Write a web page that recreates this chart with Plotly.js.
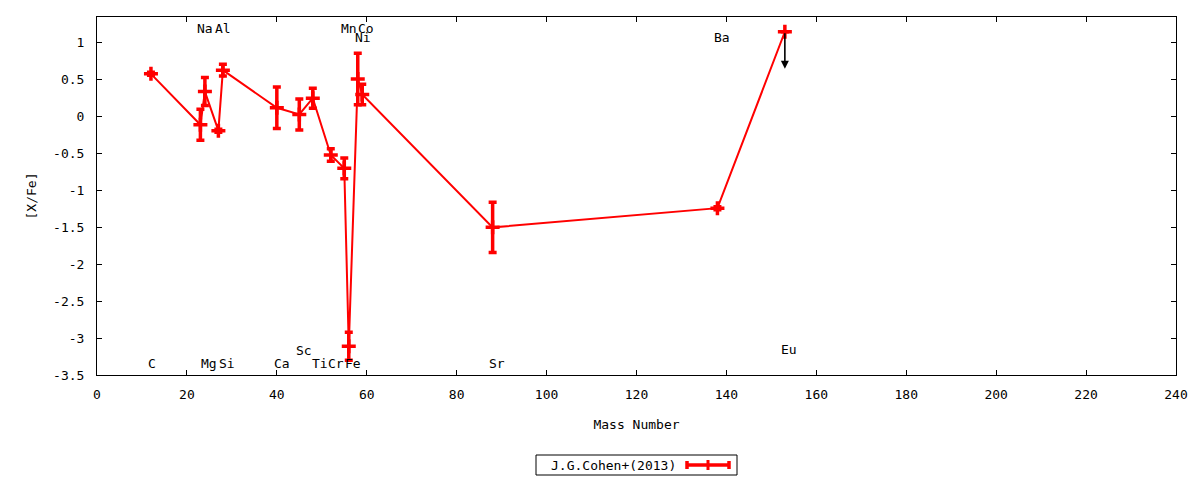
<!DOCTYPE html>
<html>
<head>
<meta charset="utf-8">
<script src="https://cdn.plot.ly/plotly-3.0.1.min.js"></script>
<style>html,body{margin:0;padding:0;background:#fff;}#chart{width:1200px;height:480px;}</style>
</head>
<body>
<div id="chart"></div>
<script>
// ---- data ----
const elements   = ['C','Na','Mg','Al','Si','Ca','Sc','Ti','Cr','Mn','Fe','Ni','Co','Sr','Ba','Eu'];
const massNumber = [12, 23, 24, 27, 28, 40, 45, 48, 52, 55, 56, 58, 59, 88, 138, 153];
const xFe        = [0.58,-0.11,0.34,-0.19,0.63,0.12,0.03,0.25,-0.52,-0.70,-3.11,0.51,0.30,-1.50,-1.24,1.15];
const xFeErr     = [0.02,0.21,0.19,0.02,0.08,0.28,0.21,0.135,0.085,0.14,0.19,0.35,0.14,0.34,0.02,0];
const upperLimit = [false,false,false,false,false,false,false,false,false,false,false,false,false,false,false,true];
// element label anchors (mass-number axis) and label row
const labelX     = [12.2,24.1,25,28.1,29,41.2,46.1,49.5,53.2,56.1,57,59.2,59.8,89,139,154];
const labelY     = [-3.35,1.20,-3.35,1.20,-3.35,-3.35,-3.17,-3.35,-3.35,1.20,-3.35,1.07,1.20,-3.35,1.07,-3.16];
const xTicks     = [0,20,40,60,80,100,120,140,160,180,200,220,240];
const yTicks     = [-3.5,-3,-2.5,-2,-1.5,-1,-0.5,0,0.5,1];
const yTickText  = ['-3.5','-3','-2.5','-2','-1.5','-1','-0.5','0','0.5','1'];
const seriesName = 'J.G.Cohen+(2013)';
const limitLength = 0.5;

const FONT = 'DejaVu Sans Mono, monospace';
const RED = '#ff0000';

const trace = {
  x: massNumber, y: xFe, type: 'scatter', mode: 'lines+markers',
  name: seriesName, showlegend: false,
  line: {color: RED, width: 2},
  marker: {symbol: 'cross-thin', size: 10, color: RED, line: {color: RED, width: 3.5}},
  error_y: {type: 'data', array: xFeErr, visible: true, color: RED, thickness: 3.5, width: 4},
  hoverinfo: 'x+y'
};

const annotations = elements.map((el, i) => ({
  x: labelX[i], y: labelY[i], xref: 'x', yref: 'y', text: el, showarrow: false,
  xanchor: 'center', yanchor: 'middle', font: {family: FONT, size: 13, color: '#000'}
}));
elements.forEach((el, i) => {
  if (upperLimit[i]) {
    annotations.push({
      x: massNumber[i], y: xFe[i] - limitLength, ax: massNumber[i], ay: xFe[i],
      xref: 'x', yref: 'y', axref: 'x', ayref: 'y', text: '', showarrow: true,
      arrowhead: 2, arrowsize: 1, arrowwidth: 1.6, arrowcolor: '#000', standoff: 0, startstandoff: 0
    });
  }
});

// plot area in pixels
const L = 97, R = 1176, T = 17, B = 375;
const px = v => (v - L) / (R - L);
const py = v => (B - v) / (B - T);

// custom gnuplot-style legend (text left, sample right)
annotations.push({
  x: px(678), y: py(465), xref: 'paper', yref: 'paper', text: seriesName, showarrow: false,
  xanchor: 'right', yanchor: 'middle', font: {family: FONT, size: 13, color: '#000'}
});
const shapes = [
  {type: 'rect', xref: 'paper', yref: 'paper', x0: px(536), x1: px(737), y0: py(475), y1: py(455),
   line: {color: '#000', width: 1}, fillcolor: 'rgba(0,0,0,0)'},
  {type: 'line', xref: 'paper', yref: 'paper', x0: px(687), x1: px(729), y0: py(465), y1: py(465),
   line: {color: RED, width: 3.5}},
  {type: 'line', xref: 'paper', yref: 'paper', x0: px(687), x1: px(687), y0: py(461), y1: py(469),
   line: {color: RED, width: 3.5}},
  {type: 'line', xref: 'paper', yref: 'paper', x0: px(729), x1: px(729), y0: py(461), y1: py(469),
   line: {color: RED, width: 3.5}},
  {type: 'line', xref: 'paper', yref: 'paper', x0: px(708), x1: px(708), y0: py(460), y1: py(470),
   line: {color: RED, width: 3}}
];

const layout = {
  width: 1200, height: 480,
  margin: {l: L, r: 1200 - R, t: T, b: 480 - B, pad: 0},
  paper_bgcolor: '#fff', plot_bgcolor: '#fff',
  font: {family: FONT, size: 13, color: '#000'},
  showlegend: false,
  xaxis: {
    range: [0, 240], tickvals: xTicks, ticktext: xTicks.map(String),
    ticks: 'inside', ticklen: 5, tickcolor: '#000', mirror: 'ticks',
    showline: true, linecolor: '#000', linewidth: 1, showgrid: false, zeroline: false,
    ticklabelstandoff: 7,
    tickfont: {family: FONT, size: 13, color: '#000'},
    title: {text: 'Mass Number', font: {family: FONT, size: 13, color: '#000'}, standoff: 19}
  },
  yaxis: {
    range: [-3.5, 1.35], tickvals: yTicks, ticktext: yTickText,
    ticks: 'inside', ticklen: 5, tickcolor: '#000', mirror: 'ticks',
    showline: true, linecolor: '#000', linewidth: 1, showgrid: false, zeroline: false,
    ticklabelstandoff: 9,
    tickfont: {family: FONT, size: 13, color: '#000'},
    title: {text: '[X/Fe]', font: {family: FONT, size: 13, color: '#000'}, standoff: 13}
  },
  annotations: annotations,
  shapes: shapes
};

Plotly.newPlot('chart', [trace], layout, {staticPlot: true, displayModeBar: false});
</script>
</body>
</html>
